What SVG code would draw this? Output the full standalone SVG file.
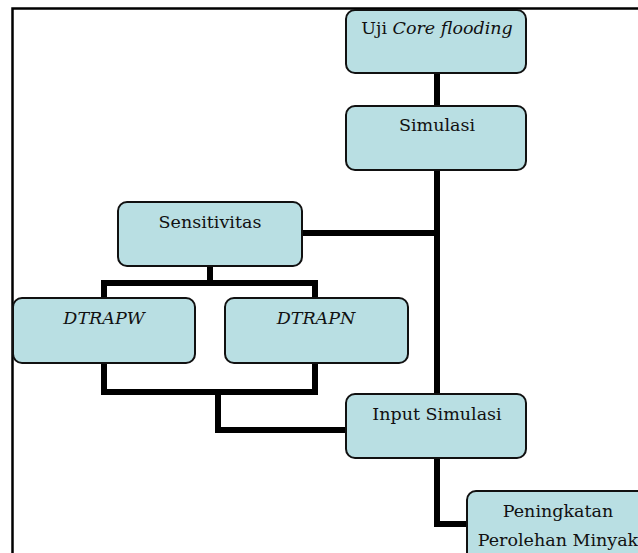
<svg xmlns="http://www.w3.org/2000/svg" width="638" height="553" viewBox="0 0 638 553">
<style>
.box{fill:#B9DFE3;stroke:#111;stroke-width:2}
.t{font-family:"DejaVu Serif","Liberation Serif",serif;font-size:17.5px;fill:#111;text-anchor:middle}
.i{font-style:italic}
.c{fill:none;stroke:#000;stroke-width:6;stroke-linejoin:miter}
</style>
<rect width="638" height="553" fill="#fff"/>
<path d="M12.5,553 V8.5 H638" fill="none" stroke="#000" stroke-width="2.5"/>
<g id="connectors">
<path class="c" d="M437,73 V106"/>
<path class="c" d="M437,170 V394"/>
<path class="c" d="M302,233 H437"/>
<path class="c" d="M437,458 V524 H467"/>
<path class="c" d="M210,266 V283"/>
<path class="c" d="M104,298 V283 H315 V298"/>
<path class="c" d="M104,363 V392 H315 V363"/>
<path class="c" d="M218,392 V430 H346"/>
</g>
<g id="node-uji">
<rect class="box" x="346" y="10" width="180" height="63" rx="9"/>
<text class="t" x="437" y="34">Uji <tspan class="i">Core flooding</tspan></text>
</g>
<g id="node-simulasi">
<rect class="box" x="346" y="106" width="180" height="64" rx="9"/>
<text class="t" x="437" y="131">Simulasi</text>
</g>
<g id="node-sensitivitas">
<rect class="box" x="118" y="202" width="184" height="64" rx="9"/>
<text class="t" x="210" y="228">Sensitivitas</text>
</g>
<g id="node-dtrapw">
<rect class="box" x="13" y="298" width="182" height="65" rx="9"/>
<text class="t i" x="104" y="324">DTRAPW</text>
</g>
<g id="node-dtrapn">
<rect class="box" x="225" y="298" width="183" height="65" rx="9"/>
<text class="t i" x="316" y="324">DTRAPN</text>
</g>
<g id="node-input">
<rect class="box" x="346" y="394" width="180" height="64" rx="9"/>
<text class="t" x="437" y="420">Input Simulasi</text>
</g>
<g id="node-peningkatan">
<rect class="box" x="467" y="491" width="190" height="80" rx="9"/>
<text class="t" x="558" y="517">Peningkatan</text>
<text class="t" x="558" y="546">Perolehan Minyak</text>
</g>
</svg>
